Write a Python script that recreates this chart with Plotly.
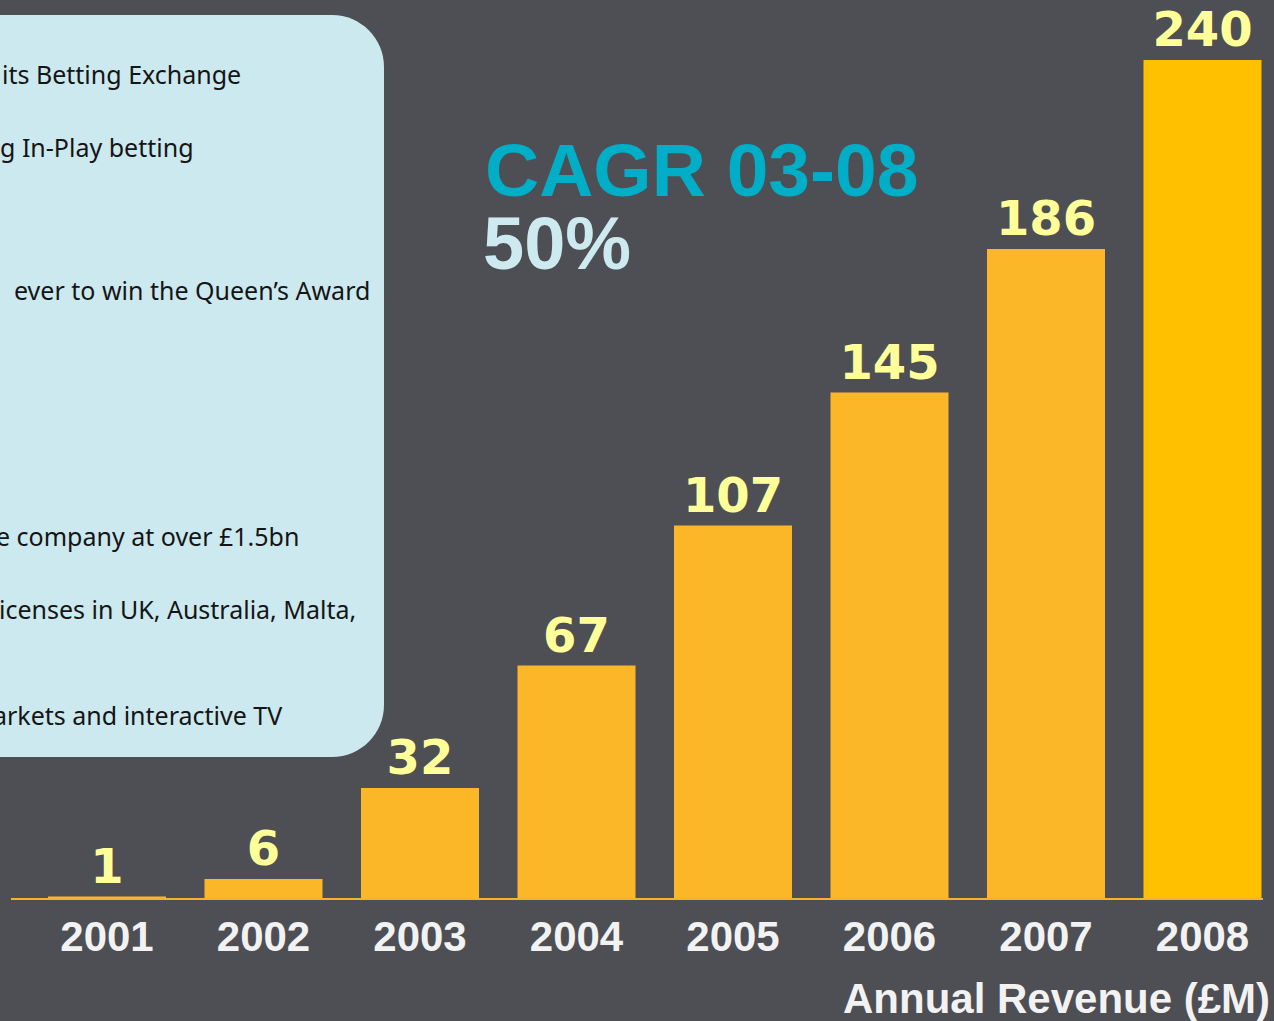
import plotly.graph_objects as go

# ---- data ----
years = ["2001", "2002", "2003", "2004", "2005", "2006", "2007", "2008"]
revenue = [1, 6, 32, 67, 107, 145, 186, 240]
bar_colors = ["#fbb727"] * 7 + ["#ffc000"]
box_lines = [
    "its Betting Exchange",
    "g In-Play betting",
    "ever to win the Queen\u2019s Award",
    "e company at over \u00a31.5bn",
    "icenses in UK, Australia, Malta,",
    "arkets and interactive TV",
]
cagr_title = "CAGR 03-08"
cagr_value = "50%"
axis_caption = "Annual Revenue (\u00a3M)"

W, H = 1274, 1021
BG = "#4e4f54"

def px(x, y):
    return x / W, 1 - y / H

fig = go.Figure()
fig.add_trace(go.Bar(
    x=years, y=revenue,
    marker=dict(color=bar_colors, line=dict(width=0)),
    text=[str(v) for v in revenue],
    textposition="outside",
    textfont=dict(family="DejaVu Sans", size=48, color="#ffff99", weight="bold"),
    cliponaxis=False,
    hoverinfo="skip",
))

# rounded info box (cut off on the left)
L, T, R, B, r = -10, 15, 384, 757, 52
k = 0.5523
def P(x, y):
    a, b = px(x, y)
    return f"{a:.5f},{b:.5f}"
path = (f"M {P(L,T)} L {P(R-r,T)} "
        f"C {P(R-r+k*r,T)} {P(R,T+r-k*r)} {P(R,T+r)} "
        f"L {P(R,B-r)} "
        f"C {P(R,B-r+k*r)} {P(R-r+k*r,B)} {P(R-r,B)} "
        f"L {P(L,B)} Z")
shapes = [dict(type="path", xref="paper", yref="paper", path=path,
               fillcolor="#cce9ef", line=dict(width=0), layer="below")]
# baseline
x0, _ = px(11, 0)
x1, _ = px(1263, 0)
shapes.append(dict(type="line", xref="paper", yref="y", x0=x0, x1=x1, y0=0, y1=0,
                   line=dict(color="#f5b22a", width=4), layer="above"))

annotations = []
line_pos = [(243, 74), (196, 147), (372, 290), (301, 536), (358, 609), (284, 715)]
for txt, (xr, yc) in zip(box_lines, line_pos):
    ax, ay = px(xr, yc)
    annotations.append(dict(xref="paper", yref="paper", x=ax, y=ay, text=txt,
                            showarrow=False, xanchor="right", yanchor="middle",
                            font=dict(family="Noto Sans", size=25, color="#151515")))
ax, ay = px(483, 170)
annotations.append(dict(xref="paper", yref="paper", x=ax, y=ay, text=f"<b>{cagr_title}</b>",
                        showarrow=False, xanchor="left", yanchor="middle",
                        font=dict(family="Liberation Sans", size=75, color="#00aec8")))
ax, ay = px(481, 244)
annotations.append(dict(xref="paper", yref="paper", x=ax, y=ay, text=f"<b>{cagr_value}</b>",
                        showarrow=False, xanchor="left", yanchor="middle",
                        font=dict(family="Liberation Sans", size=74, color="#cdeaf0")))
ax, ay = px(1272, 998)
annotations.append(dict(xref="paper", yref="paper", x=ax, y=ay, text=f"<b>{axis_caption}</b>",
                        showarrow=False, xanchor="right", yanchor="middle",
                        font=dict(family="Liberation Sans", size=42, color="#f2f2f2")))

unit = 156.5
r0 = -107 / unit
r1 = r0 + W / unit

fig.update_layout(
    width=W, height=H,
    margin=dict(l=0, r=0, t=0, b=0),
    paper_bgcolor=BG, plot_bgcolor=BG,
    bargap=1 - 118 / unit,
    showlegend=False,
    shapes=shapes,
    annotations=annotations,
    xaxis=dict(type="category", range=[r0, r1], domain=[0, 1],
               showgrid=False, zeroline=False, showline=False, ticks="",
               tickfont=dict(family="Liberation Sans", size=42, color="#f2f2f2", weight="bold"),
               ticklabelstandoff=8, fixedrange=True),
    yaxis=dict(range=[0, 900 / 3.5], domain=[121 / H, 1], visible=False, fixedrange=True),
)

fig.write_html(
    "out.html",
    config={"displayModeBar": False},
    post_script="document.body.style.margin='0';document.body.style.padding='0';"
                "document.body.style.background='" + BG + "';",
)
